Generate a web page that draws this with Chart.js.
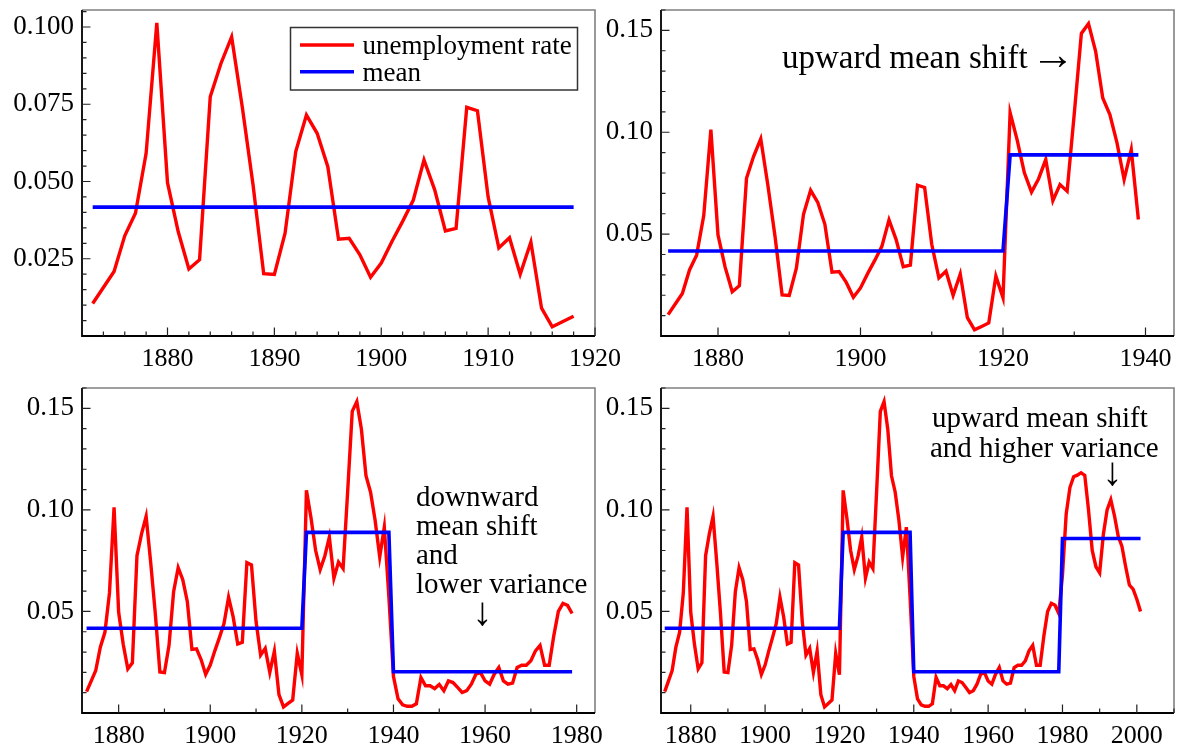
<!DOCTYPE html>
<html><head><meta charset="utf-8">
<script src="https://cdn.jsdelivr.net/npm/chart.js@4/dist/chart.umd.min.js"></script>
<style>
html,body{margin:0;padding:0;background:#fff;width:1179px;height:751px;overflow:hidden;}
canvas{position:absolute;}
</style></head><body>
<canvas id="c1" style="left:0px;top:0px" width="640" height="380"></canvas>
<canvas id="c2" style="left:600px;top:0px" width="579" height="380"></canvas>
<canvas id="c3" style="left:0px;top:380px" width="640" height="371"></canvas>
<canvas id="c4" style="left:600px;top:380px" width="579" height="371"></canvas>
<script>
// ---------------- DATA ----------------
const yearsA = [1873,1874,1875,1876,1877,1878,1879,1880,1881,1882,1883,1884,1885,1886,1887,1888,1889,1890,1891,1892,1893,1894,1895,1896,1897,1898,1899,1900,1901,1902,1903,1904,1905,1906,1907,1908,1909,1910,1911,1912,1913,1914,1915,1916,1917,1918,1919,1920];
const rateA  = [0.0105,0.0157,0.0209,0.0324,0.0397,0.0591,0.1013,0.0496,0.0338,0.0217,0.0247,0.0774,0.0882,0.0968,0.0740,0.0490,0.0202,0.0199,0.0333,0.0597,0.0715,0.0656,0.0548,0.0313,0.0316,0.0263,0.0190,0.0236,0.0306,0.0371,0.0440,0.0570,0.0473,0.0340,0.0348,0.0740,0.0729,0.0450,0.0285,0.0318,0.0200,0.0304,0.0090,0.0030,0.0047,0.0064,0.0294,0.0188];
const yearsB = [1921,1922,1923,1924,1925,1926,1927,1928,1929,1930,1931,1932,1933,1934,1935,1936,1937,1938,1939];
const rateB  = [0.1096,0.0960,0.0801,0.0706,0.0772,0.0866,0.0664,0.0743,0.0711,0.1090,0.1485,0.1533,0.1397,0.1168,0.1087,0.0948,0.0768,0.0915,0.0572];
const yearsC = [1940,1941,1942,1943,1944,1945,1946,1947,1948,1949,1950,1951,1952,1953,1954,1955,1956,1957,1958,1959,1960,1961,1962,1963,1964,1965,1966,1967,1968,1969,1970,1971,1972,1973,1974,1975,1976,1977,1978,1979];
const rateC  = [0.0180,0.0070,0.0040,0.0033,0.0033,0.0045,0.0175,0.0134,0.0134,0.0120,0.0140,0.0110,0.0158,0.0150,0.0126,0.0101,0.0110,0.0142,0.0191,0.0199,0.0158,0.0142,0.0191,0.0224,0.0158,0.0142,0.0147,0.0224,0.0235,0.0235,0.0257,0.0306,0.0333,0.0235,0.0235,0.0380,0.0500,0.0540,0.0530,0.0490];
const yearsD = [1980,1981,1982,1983,1984,1985,1986,1987,1988,1989,1990,1991,1992,1993,1994,1995,1996,1997,1998,1999,2000,2001];
const rateD  = [0.0680,0.0980,0.1110,0.1163,0.1171,0.1183,0.1170,0.1000,0.0800,0.0720,0.0690,0.0880,0.1000,0.1050,0.0970,0.0870,0.0820,0.0720,0.0630,0.0610,0.0560,0.0500];
const regimeMean = [0.0417, 0.0889, 0.0203, 0.0859];   // mean of each era A..D
const panelLastYear = [1918, 1939, 1979, 2001];
const xTickLabels = [
  [1880,1890,1900,1910,1920],
  [1880,1900,1920,1940],
  [1880,1900,1920,1940,1960,1980],
  [1880,1900,1920,1940,1960,1980,2000]
];
const yTickLabels = [
  [0.025,0.050,0.075,0.100],
  [0.05,0.10,0.15],
  [0.05,0.10,0.15],
  [0.05,0.10,0.15]
];
const seriesLabels = ['unemployment rate', 'mean'];

// ---------------- LAYOUT / STYLE ----------------
const eras = [[yearsA, rateA], [yearsB, rateB], [yearsC, rateC], [yearsD, rateD]];
const FONT = "'Liberation Serif', 'Times New Roman', serif";
const panels = [
  {id:'c1', xMin:1872, xMax:1920, yMax:0.1055, dec:3, xMinorStep:2, yMinorStep:0.005, yAxisW:82, padTop:10, padRight:45, xAxisH:44},
  {id:'c2', xMin:1872, xMax:1944, yMax:0.16, dec:2, xMinorStep:10, yMinorStep:0.01, yAxisW:61, padTop:10, padRight:5, xAxisH:44},
  {id:'c3', xMin:1872, xMax:1984, yMax:0.16, dec:2, xMinorStep:10, yMinorStep:0.01, yAxisW:82, padTop:8, padRight:45, xAxisH:38},
  {id:'c4', xMin:1872, xMax:2010, yMax:0.16, dec:2, xMinorStep:10, yMinorStep:0.01, yAxisW:61, padTop:8, padRight:5, xAxisH:38}
];
const annotations = [
  null,
  {size:33, lines:[['upward mean shift', 182, 68]], arrowRight:[431, 69]},
  {size:29, lines:[['downward',416,126],['mean shift',416,155],['and',416,183.5],['lower variance',416,213]], arrowDown:[482.5, 234]},
  {size:29, lines:[['upward mean shift',332,46.5],['and higher variance',330,76.5]], arrowDown:[512.5, 94]}
];

const decor = {
  id: 'decor',
  afterDraw(chart, args, o) {
    const {ctx, chartArea: a} = chart;
    const x = chart.scales.x, y = chart.scales.y;
    ctx.save();
    // frame
    ctx.lineWidth = 1.6; ctx.strokeStyle = '#808080';
    ctx.beginPath(); ctx.moveTo(a.left, a.top); ctx.lineTo(a.right, a.top); ctx.lineTo(a.right, a.bottom); ctx.stroke();
    ctx.lineWidth = 1.8; ctx.strokeStyle = '#000';
    ctx.beginPath(); ctx.moveTo(a.left, a.top); ctx.lineTo(a.left, a.bottom); ctx.lineTo(a.right, a.bottom); ctx.stroke();
    // inward ticks
    ctx.lineWidth = 1.2; ctx.strokeStyle = '#222';
    const p = o.panel, idx = o.idx;
    ctx.beginPath();
    for (let v = Math.ceil(p.xMin / p.xMinorStep) * p.xMinorStep; v <= p.xMax; v += p.xMinorStep) {
      if (v <= p.xMin) continue;
      const px = x.getPixelForValue(v);
      const len = xTickLabels[idx].includes(v) ? 8.5 : 4.5;
      ctx.moveTo(px, a.bottom); ctx.lineTo(px, a.bottom - len);
    }
    for (let k = 1; k * p.yMinorStep <= p.yMax + 1e-9; k++) {
      const v = k * p.yMinorStep;
      const py = y.getPixelForValue(v);
      const major = yTickLabels[idx].some(t => Math.abs(t - v) < 1e-9);
      ctx.moveTo(a.left, py); ctx.lineTo(a.left + (major ? 8.5 : 4.5), py);
    }
    ctx.stroke();
    // annotations
    const an = annotations[idx];
    if (an) {
      ctx.fillStyle = '#000'; ctx.font = an.size + 'px ' + FONT;
      ctx.textAlign = 'left'; ctx.textBaseline = 'alphabetic';
      an.lines.forEach(l => ctx.fillText(l[0], l[1], l[2]));
      if (an.arrowRight) {
        ctx.font = '44px ' + FONT;
        ctx.fillText('\u2192', an.arrowRight[0], an.arrowRight[1]);
      }
      if (an.arrowDown) {
        ctx.font = '40px ' + FONT;
        ctx.textAlign = 'center'; ctx.textBaseline = 'middle';
        ctx.fillText('\u2193', an.arrowDown[0], an.arrowDown[1]);
      }
    }
    // legend (first panel)
    if (idx === 0) {
      ctx.lineWidth = 1.5; ctx.strokeStyle = '#333';
      ctx.strokeRect(290.5, 27.5, 287, 62.5);
      const ds = chart.data.datasets;
      [[45, 53.5], [71.7, 80.5]].forEach((r, k) => {
        ctx.lineWidth = 3.4; ctx.strokeStyle = ds[k].borderColor;
        ctx.beginPath(); ctx.moveTo(300, r[0]); ctx.lineTo(354, r[0]); ctx.stroke();
        ctx.fillStyle = '#000'; ctx.font = '27px ' + FONT;
        ctx.textAlign = 'left'; ctx.textBaseline = 'alphabetic';
        ctx.fillText(ds[k].label, 362.5, r[1]);
      });
    }
    ctx.restore();
  }
};

panels.forEach((p, idx) => {
  const last = panelLastYear[idx];
  const pts = [], meanPts = [];
  eras.forEach((era, e) => era[0].forEach((yr, k) => {
    if (yr <= last) { pts.push({x: yr, y: era[1][k]}); meanPts.push({x: yr, y: regimeMean[e]}); }
  }));
  new Chart(document.getElementById(p.id), {
    type: 'line',
    data: { datasets: [
      {label: seriesLabels[0], data: pts, borderColor: '#ff0000', borderWidth: 3.4, pointRadius: 0, tension: 0, order: 1, fill: false},
      {label: seriesLabels[1], data: meanPts, borderColor: '#0000ff', borderWidth: 3.6, pointRadius: 0, tension: 0, order: 0, fill: false}
    ]},
    options: {
      responsive: false, animation: false, devicePixelRatio: 1, events: [],
      layout: {padding: {left: 0, top: p.padTop, right: p.padRight, bottom: 0}},
      plugins: {legend: {display: false}, tooltip: {enabled: false}, decor: {panel: p, idx: idx}},
      scales: {
        x: {type: 'linear', min: p.xMin, max: p.xMax,
            grid: {display: false, drawTicks: false}, border: {display: false},
            afterBuildTicks: s => { s.ticks = xTickLabels[idx].map(v => ({value: v})); },
            afterFit: s => { s.height = p.xAxisH; s.paddingLeft = 0; s.paddingRight = 0; },
            ticks: {font: {family: FONT, size: 26}, color: '#000', padding: 8, maxRotation: 0, autoSkip: false,
                    callback: v => String(v)}},
        y: {type: 'linear', min: 0, max: p.yMax,
            grid: {display: false, drawTicks: false}, border: {display: false},
            afterBuildTicks: s => { s.ticks = yTickLabels[idx].map(v => ({value: v})); },
            afterFit: s => { s.width = p.yAxisW; s.paddingTop = 0; s.paddingBottom = 0; },
            ticks: {font: {family: FONT, size: 27}, color: '#000', padding: 8, autoSkip: false,
                    callback: v => Number(v).toFixed(p.dec)}}
      }
    },
    plugins: [decor]
  });
});
</script>
</body></html>
